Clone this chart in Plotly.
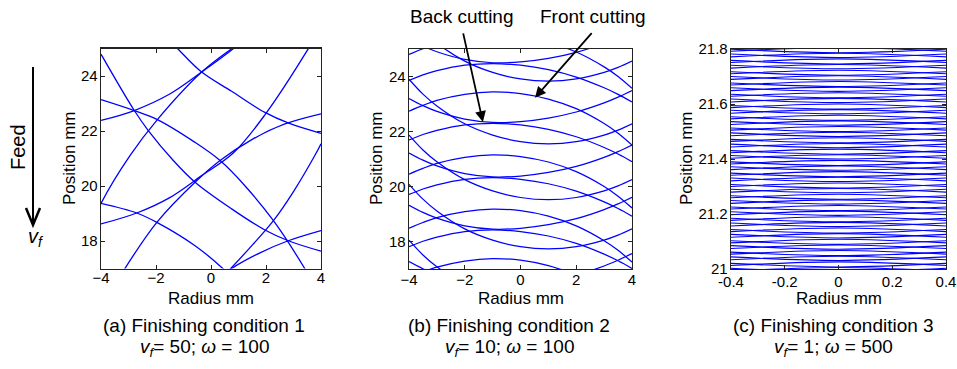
import plotly.graph_objects as go

# ---------------- data ----------------
# Panel (a): vf = 50, omega = 100
a_x = [
    [-4.0, -2.79, -2.28, -1.37, -0.58, 0.75, 1.96, 2.81, 4.0],
    [-4.2, -4.0, -2.94, -1.95, -0.34, 0.75, 1.4],
    [-3.6, -3.13, -1.97, -0.58, 0.33, 1.5, 2.69, 4.0],
    [0.33, 0.75, 1.8, 2.81, 4.0],
    [-4.0, -2.7, -1.97, -0.58, 0.45, 1.1],
    [-4.0, -2.79, -1.5, -0.34, 0.81, 1.3],
    [-4.0, -2.7, -1.5, -0.34, 0.81, 1.96, 3.54, 4.0],
    [0.2, 0.72, 1.5, 2.27, 3.0, 3.78, 4.0],
    [-4.0, -2.79, -1.95, -0.58, 0.33, 1.2, 2.27, 3.42, 3.8],
    [-1.6, -1.21, -0.34, 0.75, 1.96, 2.85, 4.0],
]
a_y = [
    [24.8, 22.75, 22.02, 20.93, 20.14, 19.17, 18.4, 18.01, 17.63],
    [18.9, 19.37, 21.12, 22.42, 24.15, 25.0, 25.45],
    [16.2, 17.0, 18.68, 20.14, 20.93, 21.7, 22.26, 22.63],
    [16.68, 17.0, 17.58, 18.01, 18.38],
    [19.37, 19.02, 18.68, 17.83, 16.98, 16.3],
    [22.39, 22.75, 23.35, 24.15, 25.0, 25.4],
    [18.62, 19.02, 19.58, 20.38, 21.2, 22.59, 25.0, 25.8],
    [16.45, 17.0, 17.85, 18.74, 19.8, 21.12, 21.54],
    [23.15, 22.75, 22.42, 21.59, 20.93, 20.05, 18.74, 16.98, 16.3],
    [25.4, 25.0, 24.15, 23.45, 22.68, 22.28, 21.92],
]

# Panel (b): vf = 10, omega = 100 -- every arc sampled at the same radii
b_x = [-4, -3.5, -3, -2, -1, 0, 1, 2, 3, 3.5, 4]
b_front_1 = [   # front-cutting arcs, first set
    [16.68, 16.89, 17.07, 17.29, 17.38, 17.32, 17.12, 16.77, 16.23, 15.88, 15.45],
    [18.48, 18.69, 18.87, 19.09, 19.18, 19.12, 18.92, 18.57, 18.03, 17.68, 17.25],
    [20.45, 20.66, 20.84, 21.06, 21.15, 21.09, 20.89, 20.54, 20.00, 19.65, 19.22],
    [22.74, 22.95, 23.13, 23.35, 23.44, 23.38, 23.18, 22.83, 22.29, 21.94, 21.51],
    [24.80, 25.01, 25.19, 25.41, 25.50, 25.44, 25.24, 24.89, 24.35, 24.00, 23.57],
]
b_front_2 = [   # front-cutting arcs, second set
    [17.81, 18.01, 18.16, 18.36, 18.42, 18.36, 18.20, 17.93, 17.54, 17.30, 17.02],
    [19.71, 19.91, 20.06, 20.26, 20.32, 20.26, 20.10, 19.83, 19.44, 19.20, 18.92],
    [21.69, 21.89, 22.04, 22.24, 22.30, 22.24, 22.08, 21.81, 21.42, 21.18, 20.90],
    [23.86, 24.06, 24.21, 24.41, 24.47, 24.41, 24.25, 23.98, 23.59, 23.35, 23.07],
]
b_back_1 = [    # back-cutting arcs, first set
    [17.27, 17.01, 16.80, 16.52, 16.40, 16.43, 16.56, 16.78, 17.11, 17.32, 17.56],
    [19.32, 19.06, 18.85, 18.57, 18.45, 18.48, 18.61, 18.83, 19.16, 19.37, 19.61],
    [21.22, 20.96, 20.75, 20.47, 20.35, 20.38, 20.51, 20.73, 21.06, 21.27, 21.51],
    [23.20, 22.94, 22.73, 22.45, 22.33, 22.36, 22.49, 22.71, 23.04, 23.25, 23.49],
    [25.37, 25.11, 24.90, 24.62, 24.50, 24.53, 24.66, 24.88, 25.21, 25.42, 25.66],
]
b_back_2 = [    # back-cutting arcs, second set
    [18.05, 17.51, 17.08, 16.43, 16.02, 15.78, 15.70, 15.78, 16.02, 16.20, 16.43],
    [20.08, 19.54, 19.11, 18.46, 18.05, 17.81, 17.73, 17.81, 18.05, 18.23, 18.46],
    [21.87, 21.33, 20.90, 20.25, 19.84, 19.60, 19.52, 19.60, 19.84, 20.02, 20.25],
    [23.90, 23.36, 22.93, 22.28, 21.87, 21.63, 21.55, 21.63, 21.87, 22.05, 22.28],
    [26.18, 25.64, 25.21, 24.56, 24.15, 23.91, 23.83, 23.91, 24.15, 24.33, 24.56],
]

# Panel (c): vf = 1, omega = 500 -- arcs given by their value at the edges and at the centre
c_x = [-0.4, 0.0, 0.4]
c_front_1_mid = [20.985, 21.026, 21.067, 21.108, 21.149, 21.190, 21.231, 21.272, 21.313, 21.354, 21.395,
                 21.436, 21.477, 21.518, 21.559, 21.600, 21.641, 21.682, 21.723, 21.764, 21.805]
c_front_1_edge = [20.972, 21.013, 21.054, 21.095, 21.136, 21.177, 21.218, 21.259, 21.300, 21.341, 21.382,
                  21.423, 21.464, 21.505, 21.546, 21.587, 21.628, 21.669, 21.710, 21.751, 21.792]
c_back_2_mid = [20.990, 21.031, 21.072, 21.113, 21.154, 21.195, 21.236, 21.277, 21.318, 21.359, 21.400,
                21.441, 21.482, 21.523, 21.564, 21.605, 21.646, 21.687, 21.728, 21.769, 21.810]
c_back_2_edge = [21.003, 21.044, 21.085, 21.126, 21.167, 21.208, 21.249, 21.290, 21.331, 21.372, 21.413,
                 21.454, 21.495, 21.536, 21.577, 21.618, 21.659, 21.700, 21.741, 21.782, 21.823]
c_front_2_mid = [21.0055, 21.0465, 21.0875, 21.1285, 21.1695, 21.2105, 21.2515, 21.2925, 21.3335, 21.3745,
                 21.4155, 21.4565, 21.4975, 21.5385, 21.5795, 21.6205, 21.6615, 21.7025, 21.7435, 21.7845,
                 21.8255]
c_front_2_edge = [20.9925, 21.0335, 21.0745, 21.1155, 21.1565, 21.1975, 21.2385, 21.2795, 21.3205, 21.3615,
                  21.4025, 21.4435, 21.4845, 21.5255, 21.5665, 21.6075, 21.6485, 21.6895, 21.7305, 21.7715,
                  21.8125]
c_back_1_mid = [21.0075, 21.0485, 21.0895, 21.1305, 21.1715, 21.2125, 21.2535, 21.2945, 21.3355, 21.3765,
                21.4175, 21.4585, 21.4995, 21.5405, 21.5815, 21.6225, 21.6635, 21.7045, 21.7455, 21.7865,
                21.8275]
c_back_1_edge = [21.0205, 21.0615, 21.1025, 21.1435, 21.1845, 21.2255, 21.2665, 21.3075, 21.3485, 21.3895,
                 21.4305, 21.4715, 21.5125, 21.5535, 21.5945, 21.6355, 21.6765, 21.7175, 21.7585, 21.7995,
                 21.8405]

a_xticks = [-4, -2, 0, 2, 4]
a_yticks = [18, 20, 22, 24]
c_xticks = [-0.4, -0.2, 0, 0.2, 0.4]
c_xticktext = ["-0.4", "-0.2", "0", "0.2", "0.4"]
c_yticks = [21, 21.2, 21.4, 21.6, 21.8]
c_yticktext = ["21", "21.2", "21.4", "21.6", "21.8"]
captions = ["(a) Finishing condition 1", "(b) Finishing condition 2", "(c) Finishing condition 3"]
conditions = [("50", "100"), ("10", "100"), ("1", "500")]

# ---------------- figure ----------------
W, H = 957, 369
FONT = "Liberation Sans, Arial, sans-serif"
BLUE = "#0000ff"


def fx(px):
    return px / W


def fy(py):
    return 1 - py / H


fig = go.Figure()


def add_curve(x, y, ax, width=1.3):
    fig.add_trace(go.Scatter(x=x, y=y, mode="lines", xaxis="x" + ax, yaxis="y" + ax,
                             line=dict(color=BLUE, width=width, shape="spline", smoothing=1.0),
                             hoverinfo="skip", showlegend=False))


for xs, ys in zip(a_x, a_y):
    add_curve(xs, ys, "")
for group in (b_front_1, b_front_2, b_back_1, b_back_2):
    for ys in group:
        add_curve(b_x, ys, "2", width=1.25)
for mids, edges in ((c_front_1_mid, c_front_1_edge), (c_back_2_mid, c_back_2_edge),
                    (c_front_2_mid, c_front_2_edge), (c_back_1_mid, c_back_1_edge)):
    for m, e in zip(mids, edges):
        add_curve(c_x, [e, m, e], "3", width=1.1)

panels = [
    dict(x=(101, 321), y=(48.7, 268.5), xr=[-4, 4], yr=[17, 25], xt=a_xticks, xtt=None,
         yt=a_yticks, ytt=None, sd=-5),
    dict(x=(409, 632), y=(49, 269), xr=[-4, 4], yr=[17, 25], xt=a_xticks, xtt=None,
         yt=a_yticks, ytt=None, sd=-3),
    dict(x=(731, 946), y=(49, 269), xr=[-0.4, 0.4], yr=[21, 21.8], xt=c_xticks, xtt=c_xticktext,
         yt=c_yticks, ytt=c_yticktext, sd=-1),
]

axis_common = dict(showgrid=False, zeroline=False, showline=True, linecolor="#222222",
                   linewidth=1.3, mirror="ticks", ticks="inside", ticklen=4, tickwidth=1,
                   tickcolor="#222222", tickfont=dict(family=FONT, size=15, color="black"),
                   fixedrange=True, automargin=False)

layout = dict(width=W, height=H, margin=dict(l=0, r=0, t=0, b=0, autoexpand=False),
              paper_bgcolor="white", plot_bgcolor="white", showlegend=False)
for i, p in enumerate(panels):
    s = "" if i == 0 else str(i + 1)
    xa = dict(axis_common, domain=[fx(p["x"][0]), fx(p["x"][1])], range=p["xr"],
              tickvals=p["xt"], anchor="y" + s, ticklabelstandoff=p["sd"])
    ya = dict(axis_common, domain=[fy(p["y"][1]), fy(p["y"][0])], range=p["yr"],
              tickvals=p["yt"], anchor="x" + s, ticklabelstandoff=-1)
    if p["xtt"]:
        xa["ticktext"] = p["xtt"]
    if p["ytt"]:
        ya["ticktext"] = p["ytt"]
    layout["xaxis" + s] = xa
    layout["yaxis" + s] = ya
fig.update_layout(**layout)

ann = []
title_font = dict(family=FONT, size=17, color="black")
for i, p in enumerate(panels):
    cx = (p["x"][0] + p["x"][1]) / 2
    ann.append(dict(x=fx(cx), y=fy(298), xref="paper", yref="paper", text="Radius mm",
                    showarrow=False, font=title_font, xanchor="center", yanchor="middle"))
ylab_x = [69, 376, 686]
for i, p in enumerate(panels):
    ann.append(dict(x=fx(ylab_x[i]), y=fy(158), xref="paper", yref="paper", text="Position mm",
                    textangle=-90, showarrow=False, font=title_font, xanchor="center", yanchor="middle"))

cap_x = [204, 509, 833]
cap_font = dict(family=FONT, size=19, color="black")
for i in range(3):
    ann.append(dict(x=fx(cap_x[i]), y=fy(325), xref="paper", yref="paper", text=captions[i],
                    showarrow=False, font=cap_font, xanchor="center", yanchor="middle"))
    vf, om = conditions[i]
    ann.append(dict(x=fx(cap_x[i]), y=fy(348), xref="paper", yref="paper",
                    text="<i>v</i><sub><i>f</i></sub>= %s; <i>\u03c9</i> = %s" % (vf, om),
                    showarrow=False, font=cap_font, xanchor="center", yanchor="middle"))

# Feed arrow labels
ann.append(dict(x=fx(18), y=fy(147), xref="paper", yref="paper", text="Feed", textangle=-90,
                showarrow=False, font=dict(family=FONT, size=20, color="black"),
                xanchor="center", yanchor="middle"))
ann.append(dict(x=fx(36), y=fy(238), xref="paper", yref="paper", text="<i>v</i><sub><i>f</i></sub>",
                showarrow=False, font=dict(family=FONT, size=20, color="black"),
                xanchor="center", yanchor="middle"))

# Back / front cutting
ann.append(dict(x=fx(462), y=fy(16), xref="paper", yref="paper", text="Back cutting",
                showarrow=False, font=cap_font, xanchor="center", yanchor="middle"))
ann.append(dict(x=fx(593), y=fy(16), xref="paper", yref="paper", text="Front cutting",
                showarrow=False, font=cap_font, xanchor="center", yanchor="middle"))
ann.append(dict(x=-1.35, y=22.35, xref="x2", yref="y2", text="", showarrow=True,
                ax=-20, ay=-90, arrowhead=2, arrowsize=1.2, arrowwidth=1.8, arrowcolor="black"))
ann.append(dict(x=0.52, y=23.23, xref="x2", yref="y2", text="", showarrow=True,
                ax=58, ay=-66, arrowhead=2, arrowsize=1.2, arrowwidth=1.8, arrowcolor="black"))
fig.update_layout(annotations=ann)

fig.update_layout(shapes=[
    dict(type="line", xref="paper", yref="paper", x0=fx(33), x1=fx(33), y0=fy(67), y1=fy(224),
         line=dict(color="black", width=2)),
    dict(type="path", xref="paper", yref="paper",
         path="M %f,%f L %f,%f L %f,%f" % (fx(26), fy(208), fx(33), fy(225), fx(40), fy(208)),
         line=dict(color="black", width=2.5)),
])

fig.write_html("out.html", config={"displayModeBar": False, "staticPlot": True},
               post_script="document.body.style.margin='0px';document.body.style.overflow='hidden';")
